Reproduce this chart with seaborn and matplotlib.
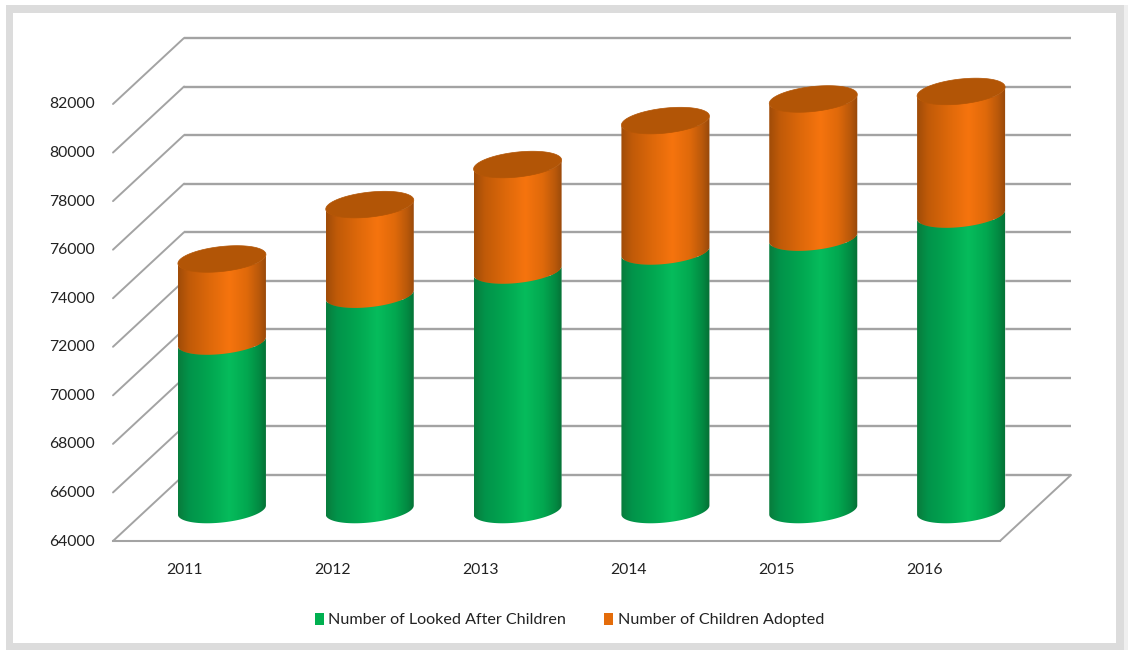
import numpy as np
import pandas as pd
import matplotlib
matplotlib.use("Agg")
import matplotlib.pyplot as plt
from matplotlib.patches import Polygon, Rectangle, Patch
from matplotlib.colors import LinearSegmentedColormap
from matplotlib.transforms import ScaledTranslation
import seaborn as sns

years = ["2011", "2012", "2013", "2014", "2015", "2016"]
looked_after = [70940, 72870, 73865, 74650, 75220, 76170]
adopted = [3400, 3710, 4365, 5390, 5710, 5070]
y_ticks = list(range(64000, 84000, 2000))
legend_labels = ["Number of Looked After Children", "Number of Children Adopted"]

W, H = 1128, 650
sns.set_style("white")
plt.rcParams["font.family"] = ["Lato", "DejaVu Sans"]
fig = plt.figure(figsize=(W / 100, H / 100), dpi=100, facecolor="white")

# frame
def frame(x0, y0, x1, y1, c, z):
    fig.add_artist(Rectangle((x0 / W, 1 - y1 / H), (x1 - x0) / W, (y1 - y0) / H,
                             transform=fig.transFigure, fc=c, ec="none", zorder=z))
frame(6, 5, 1128, 650, "#efefef", -5)
frame(6, 5, 1124, 650, "#dcdcdc", -4)
frame(13, 13, 1116, 643, "white", -3)

ax = fig.add_axes([113 / W, 1 - 541 / H, (1000 - 113) / W, (541 - 104) / H])
ax.patch.set_alpha(0)

GREEN, ORANGE = "#00B050", "#E46C0A"
df = pd.DataFrame({"year": years, "green": looked_after, "adopted": adopted})
df["total"] = df["green"] + df["adopted"]

BAR_W = 88 / 147.8
sns.barplot(data=df, x="year", y="total", color=ORANGE, width=BAR_W, saturation=1, ax=ax, zorder=2)
sns.barplot(data=df, x="year", y="green", color=GREEN, width=BAR_W, saturation=1, ax=ax, zorder=2)

ax.set_xlim(-0.5, 5.5)
ax.set_ylim(64000, 82000)
ax.set_yticks(y_ticks)
ax.set_xlabel("")
ax.set_ylabel("")
ax.tick_params(axis="y", length=0, pad=13, labelsize=11.3, labelcolor="#222222")
ax.tick_params(axis="x", length=0, pad=16, labelsize=11.3, labelcolor="#222222")
for lab in ax.get_xticklabels():
    lab.set_transform(lab.get_transform() + ScaledTranslation(-2 / 100, 0, fig.dpi_scale_trans))
for lab in ax.get_yticklabels():
    lab.set_transform(lab.get_transform() + ScaledTranslation(0, 1 / 100, fig.dpi_scale_trans))
sns.despine(ax=ax, left=True, right=True, top=True, bottom=False)
LINE = "#a3a3a3"
ax.spines["bottom"].set_color(LINE)
ax.spines["bottom"].set_linewidth(1.5)

# perspective offsets in data units
px_x = 147.8
px_y = (541 - 104) / 18000
wall_dx, wall_dy = 71 / px_x, 66 / px_y
bar_dx, bar_dy = 35 / px_x, 31 / px_y
a = 44 / px_x
b = 12.5 / px_y
s = 4.5 / px_y

# back wall and diagonals
for v in y_ticks:
    ax.plot([-0.5, -0.5 + wall_dx], [v, v + wall_dy], color=LINE, lw=1.4, clip_on=False, zorder=1)
    ax.plot([-0.5 + wall_dx, 5.5 + wall_dx], [v + wall_dy, v + wall_dy], color=LINE, lw=1.7,
            clip_on=False, zorder=1, solid_capstyle="butt")
ax.plot([5.5, 5.5 + wall_dx], [64000, 64000 + wall_dy], color=LINE, lw=1.4, clip_on=False, zorder=1)

def arc(cx, cy, t):
    return np.column_stack([cx + a * np.cos(t), cy + b * np.sin(t) + s * np.cos(t)])

front = np.linspace(np.pi, 2 * np.pi, 60)
full = np.linspace(0, 2 * np.pi, 120)
knots = [0, 0.12, 0.35, 0.58, 0.78, 0.92, 1]
green_cmap = LinearSegmentedColormap.from_list(
    "g", list(zip(knots, ["#087C3C", "#02934A", "#01A650", "#06BC5C", "#02A850", "#028A42", "#066F35"])))
orange_cmap = LinearSegmentedColormap.from_list(
    "o", list(zip(knots, ["#A04C08", "#C05A08", "#DD680A", "#F6740E", "#DF690A", "#B8580A", "#96480A"])))
grad = np.linspace(0, 1, 128).reshape(1, -1)

def segment(cx, lo, hi, cmap):
    pts = np.vstack([arc(cx, hi, front), arc(cx, lo, front)[::-1]])
    clip = Polygon(pts, closed=True, transform=ax.transData, fc="none", ec="none")
    im = ax.imshow(grad, cmap=cmap, aspect="auto", zorder=3, interpolation="bilinear",
                   extent=(cx - a, cx + a, lo - b - s, hi + b + s))
    im.set_clip_box(fig.bbox)
    im.set_clip_path(clip)

# move the seaborn bars onto the mid-depth plane, inside the cylinder outline
n = len(years)
bars = list(ax.patches)
for i, rect in enumerate(bars[:n]):
    rect.set_x(i + bar_dx - a + 0.01)
    rect.set_width(2 * a - 0.02)
    rect.set_y(64000 + bar_dy + s)
    rect.set_height(df["total"][i] - 64000 - 2 * s)
    rect.set_clip_on(False)
for i, rect in enumerate(bars[n:2 * n]):
    rect.set_x(i + bar_dx - a + 0.01)
    rect.set_width(2 * a - 0.02)
    rect.set_y(64000 + bar_dy + s)
    rect.set_height(df["green"][i] - 64000 - 2 * s)
    rect.set_clip_on(False)

for i in range(n):
    cx = i + bar_dx
    base = 64000 + bar_dy
    g = df["green"][i] + bar_dy
    t = df["total"][i] + bar_dy
    segment(cx, base, g, green_cmap)
    segment(cx, g, t, orange_cmap)
    ax.add_patch(Polygon(arc(cx, t, full), closed=True, fc="#B25506", ec="#B25506", lw=0.5,
                         zorder=4, clip_on=False))

ax.set_xlim(-0.5, 5.5)
ax.set_ylim(64000, 82000)

handles = [Patch(fc=GREEN, ec="none"), Patch(fc=ORANGE, ec="none")]
leg = fig.legend(handles, legend_labels, ncol=2, loc="center", bbox_to_anchor=(569.5 / W, 1 - 620 / H),
                 frameon=False, fontsize=11.6, handlelength=0.56, handleheight=0.8, handletextpad=0.3,
                 columnspacing=2.36, labelcolor="#222222")

fig.savefig("out.png", dpi=100)
